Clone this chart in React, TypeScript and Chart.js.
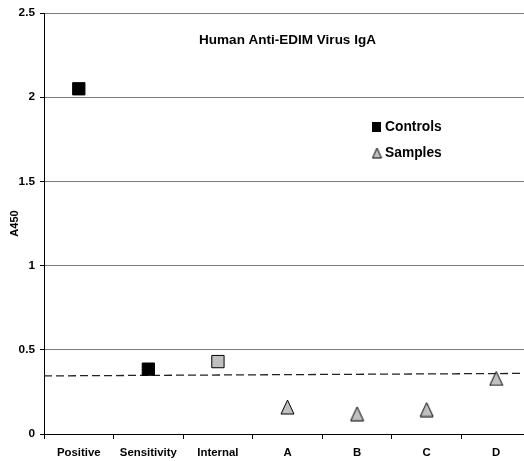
import React, { useEffect, useRef } from "react";
import { Chart, registerables } from "chart.js";

Chart.register(...registerables);

const categories = ["Positive", "Sensitivity", "Internal", "A", "B", "C", "D"];
const controlValues = [2.05, 0.385, 0.43, null, null, null, null];
const controlFills = ["#000000", "#000000", "#c0c0c0", "#000000", "#000000", "#000000", "#000000"];
const sampleValues = [null, null, null, 0.16, 0.12, 0.145, 0.33];
const cutoffX = [-0.5, 6.5];
const cutoffY = [0.345, 0.36];
const yMin = 0;
const yMax = 2.5;
const yStep = 0.5;
const chartTitle = "Human Anti-EDIM Virus IgA";
const yAxisTitle = "A450";
const legendLabels = ["Controls", "Samples"];

const FONT = "'Liberation Sans', Arial, sans-serif";

function makeTriangle(w: number, h: number, fill: string): HTMLCanvasElement {
  const c = document.createElement("canvas");
  c.width = w + 2;
  c.height = h + 2;
  const ctx = c.getContext("2d")!;
  ctx.beginPath();
  ctx.moveTo(1 + w / 2, 1);
  ctx.lineTo(1 + w, 1 + h);
  ctx.lineTo(1, 1 + h);
  ctx.closePath();
  ctx.fillStyle = fill;
  ctx.fill();
  ctx.strokeStyle = "#000";
  ctx.lineWidth = 1;
  ctx.stroke();
  return c;
}

export default function App() {
  const ref = useRef<HTMLCanvasElement | null>(null);

  useEffect(() => {
    if (!ref.current) return;
    const tri = makeTriangle(13, 14, "#c0c0c0");
    const smallTri = makeTriangle(9, 10, "#c0c0c0");

    const overlay = {
      id: "overlay",
      afterDraw(chart: any) {
        const { ctx, chartArea } = chart;
        ctx.save();
        ctx.fillStyle = "#000";
        ctx.font = `bold 13.5px ${FONT}`;
        ctx.textAlign = "center";
        ctx.textBaseline = "middle";
        ctx.fillText(chartTitle, (chartArea.left + chartArea.right) / 2, chartArea.top + 27);

        // legend
        const lx = chartArea.left + 328;
        const ly1 = chartArea.top + 114;
        const ly2 = chartArea.top + 140;
        ctx.fillStyle = "#000";
        ctx.fillRect(lx, ly1 - 5, 9, 10);
        ctx.drawImage(smallTri, lx - 0.5, ly2 - 6);
        ctx.font = `bold 13.8px ${FONT}`;
        ctx.textAlign = "left";
        ctx.fillStyle = "#000";
        ctx.fillText(legendLabels[0], lx + 13, ly1);
        ctx.fillText(legendLabels[1], lx + 13, ly2);
        ctx.restore();
      },
    };

    const chart = new Chart(ref.current, {
      type: "line",
      data: {
        labels: categories,
        datasets: [
          {
            label: legendLabels[0],
            data: controlValues as any,
            showLine: false,
            pointStyle: "rect",
            pointRadius: 8.7,
            pointBackgroundColor: controlFills,
            pointBorderColor: "#000",
            pointBorderWidth: 1,
            order: 1,
          },
          {
            label: legendLabels[1],
            data: sampleValues as any,
            showLine: false,
            pointStyle: tri as any,
            pointRadius: 8,
            order: 1,
          },
          {
            label: "cutoff",
            data: cutoffX.map((x, i) => ({ x, y: cutoffY[i] })) as any,
            xAxisID: "x2",
            borderColor: "#222222",
            borderWidth: 1.3,
            borderDash: [8, 4],
            pointRadius: 0,
            order: 2,
          },
        ],
      },
      options: {
        animation: false,
        responsive: false,
        events: [],
        layout: { autoPadding: false, padding: { top: 13, right: 1, left: 0, bottom: 0 } },
        plugins: {
          legend: { display: false },
          tooltip: { enabled: false },
          title: { display: false },
        },
        scales: {
          x: {
            type: "category",
            offset: true,
            grid: {
              display: true,
              drawOnChartArea: false,
              drawTicks: true,
              tickLength: 5,
              color: "#000",
              offset: true,
            },
            border: { color: "#000", width: 1 },
            ticks: {
              color: "#000",
              font: { family: FONT, size: 11.4, weight: "bold" },
              padding: 7,
              maxRotation: 0,
              autoSkip: false,
            },
            afterFit(scale: any) {
              scale.height = 27;
            },
          },
          x2: {
            type: "linear",
            display: false,
            min: cutoffX[0],
            max: cutoffX[1],
          },
          y: {
            min: yMin,
            max: yMax,
            ticks: {
              stepSize: yStep,
              color: "#000",
              padding: 5,
              font: { family: FONT, size: 11.8, weight: "bold" },
              callback: (v: any) => String(v),
            },
            grid: {
              color: "#7a7a7a",
              lineWidth: 1,
              tickLength: 4,
              tickColor: "#000",
            },
            border: { color: "#000", width: 1 },
            title: {
              display: true,
              text: yAxisTitle,
              color: "#000",
              font: { family: FONT, size: 11, weight: "bold" },
              padding: { top: 8, bottom: 0 },
            },
            afterFit(scale: any) {
              scale.width = 44;
            },
          },
        },
      },
      plugins: [overlay],
    });
    return () => chart.destroy();
  }, []);

  return (
    <div
      style={{
        position: "absolute",
        left: 0,
        top: 0,
        width: 524,
        height: 461,
        overflow: "hidden",
        background: "#fff",
      }}
    >
      <canvas ref={ref} width={532} height={461} style={{ display: "block" }} />
    </div>
  );
}
